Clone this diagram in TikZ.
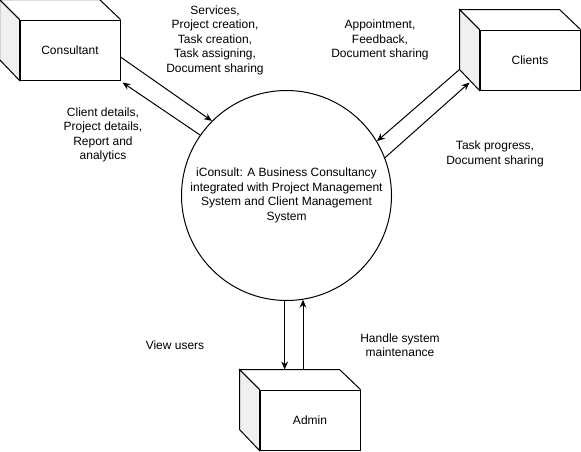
\documentclass[tikz,border=0pt]{standalone}
\usepackage{fontspec}
\setmainfont{Liberation Sans}
\usepackage{tikz}
\usetikzlibrary{arrows.meta, positioning, calc}

\begin{document}
\begin{tikzpicture}[
    x=0.75pt, y=-0.75pt, line width=0.75pt,
    face/.style={rectangle, draw, fill=white, minimum width=75pt, minimum height=45pt, inner sep=0pt},
    proc/.style={circle, draw, fill=white, minimum size=157.5pt, inner sep=0pt},
    lbl/.style={align=center, font=\fontsize{9}{10.9}\selectfont},
    flow/.style={-{Stealth[length=6pt, width=5pt]}}
]
    \useasboundingbox (0,0) rectangle (581,451);

    % entities (front face of each cube)
    \node[face, lbl] (cons) at (70, 50) {Consultant};
    \node[face, lbl] (cli) at (530, 60) {Clients};
    \node[face, lbl] (adm) at (310, 420) {Admin};
    \foreach \n in {cons, cli, adm} {
        \filldraw[fill=gray!12] (\n.north west) -- ++(-20,-20) -- ++(0,60) -- (\n.south west) -- cycle;
        \draw (\n.north west) -- ++(-20,-20) -- ++(100,0) -- (\n.north east);
    }

    % process
    \node[proc, lbl] (sys) at (286.5, 195.5) {iConsult: A Business Consultancy\\integrated with Project Management\\System and Client Management\\System};

    % connectors
    \coordinate (consout) at ($(cons.east)+(0,7)$);
    \coordinate (consin) at ($(cons.south east)+(2,2)$);
    \coordinate (cliout) at ($(cli.north west)+(-20,40)$);
    \coordinate (cliin) at ($(cli.south west)+(-10,-8)$);
    \coordinate (admtop) at ($(adm.north)+(0,-20)$);
    \draw[flow] (consout) -- (sys.135);
    \draw[flow] (sys.145) -- (consin);
    \draw[flow] (sys.21) -- (cliin);
    \draw[flow] (cliout) -- (sys.31);
    \draw[flow] (sys.269) -- (sys.269 |- admtop);
    \draw[flow] (sys.279 |- admtop) -- (sys.279);

    % labels
    \node[lbl] (l1) at (215, 40) {Services,\\Project creation,\\Task creation,\\Task assigning,\\Document sharing};
    \node[lbl] (l2) at (103, 135) {Client details,\\Project details,\\Report and\\analytics};
    \node[lbl] (l3) at (380, 40) {Appointment,\\Feedback,\\Document sharing};
    \node[lbl] (l4) at (495, 154) {Task progress,\\Document sharing};
    \node[lbl] (l5) at (175, 345) {View users};
    \node[lbl] (l6) at (400, 345) {Handle system\\maintenance};
\end{tikzpicture}
\end{document}
